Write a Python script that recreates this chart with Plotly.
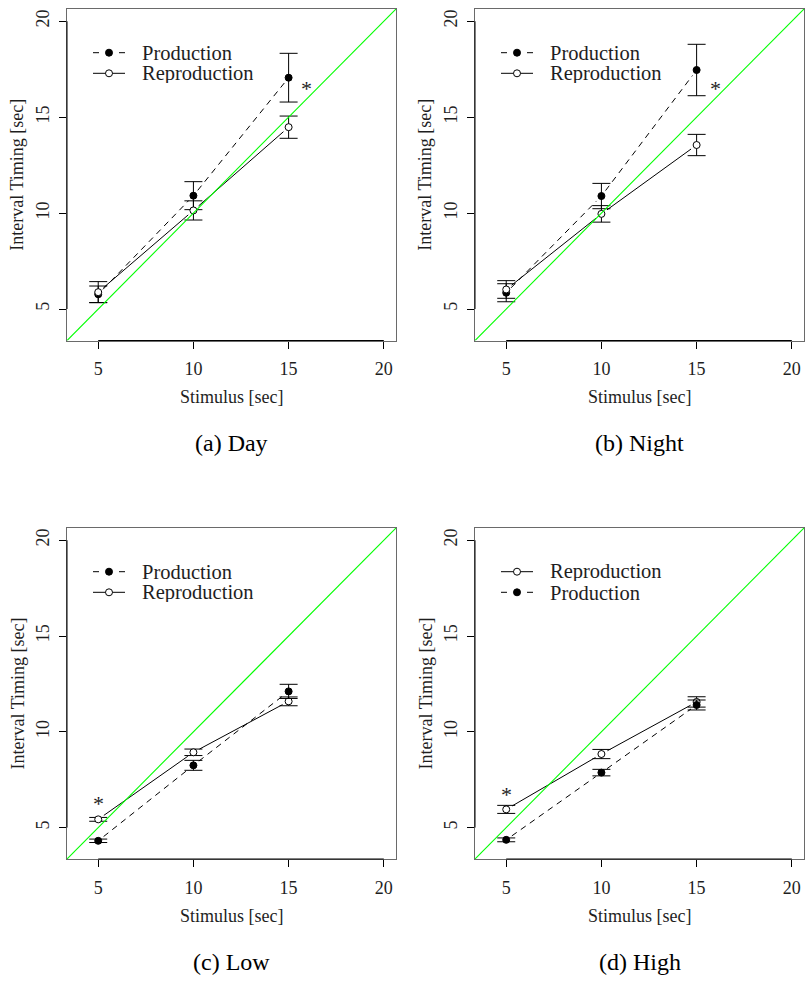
import numpy as np
import plotly.graph_objects as go

# ---- data -------------------------------------------------------------
STIMULUS = [5, 10, 15]
AXIS_RANGE = [3.36, 20.64]
TICKS = [5, 10, 15, 20]

DAY_PROD = [5.77, 10.91, 17.06]
DAY_PROD_SE = [0.43, 0.73, 1.27]
DAY_REP = [5.88, 10.14, 14.48]
DAY_REP_SE = [0.55, 0.50, 0.58]

NIGHT_PROD = [5.85, 10.89, 17.46]
NIGHT_PROD_SE = [0.47, 0.66, 1.34]
NIGHT_REP = [6.02, 9.96, 13.55]
NIGHT_REP_SE = [0.46, 0.43, 0.555]

LOW_PROD = [4.31, 8.25, 12.11]
LOW_PROD_SE = [0.09, 0.26, 0.37]
LOW_REP = [5.43, 8.93, 11.59]
LOW_REP_SE = [0.10, 0.17, 0.23]

HIGH_PROD = [4.36, 7.87, 11.40]
HIGH_PROD_SE = [0.10, 0.17, 0.26]
HIGH_REP = [5.95, 8.84, 11.56]
HIGH_REP_SE = [0.21, 0.24, 0.27]

# significance markers (stimulus, interval)
DAY_STAR = (15.96, 16.63)
NIGHT_STAR = (15.98, 16.63)
LOW_STAR = (5.0, 6.40)
HIGH_STAR = (5.0, 6.87)

CAPTIONS = ["(a) Day", "(b) Night", "(c) Low", "(d) High"]
X_TITLE = "Stimulus [sec]"
Y_TITLE = "Interval Timing [sec]"

# ---- layout geometry (pixels) -----------------------------------------
W, H = 807, 985
FONT = "Liberation Serif"
TEXT = "#1e1e1e"
XPX = {"L": (67, 396), "R": (475, 804)}
YPX = {"T": (9, 340.5), "B": (528, 859)}


def px(x):
    return x / W


def py(y):
    return 1 - y / H


STYLE = {
    "Production": dict(dash="6px,5px", fill="black"),
    "Reproduction": dict(dash="solid", fill="white"),
}

panels = [
    dict(pos=("L", "T"), star=DAY_STAR, cap=CAPTIONS[0],
         series=[("Production", DAY_PROD, DAY_PROD_SE), ("Reproduction", DAY_REP, DAY_REP_SE)],
         draw=["Production", "Reproduction"]),
    dict(pos=("R", "T"), star=NIGHT_STAR, cap=CAPTIONS[1],
         series=[("Production", NIGHT_PROD, NIGHT_PROD_SE), ("Reproduction", NIGHT_REP, NIGHT_REP_SE)],
         draw=["Production", "Reproduction"]),
    dict(pos=("L", "B"), star=LOW_STAR, cap=CAPTIONS[2],
         series=[("Production", LOW_PROD, LOW_PROD_SE), ("Reproduction", LOW_REP, LOW_REP_SE)],
         draw=["Reproduction", "Production"]),
    dict(pos=("R", "B"), star=HIGH_STAR, cap=CAPTIONS[3],
         series=[("Reproduction", HIGH_REP, HIGH_REP_SE), ("Production", HIGH_PROD, HIGH_PROD_SE)],
         draw=["Reproduction", "Production"]),
]


def gapped(xs, ys, gap=0.36):
    """Line segments between points, stopped short of each point (R type='b')."""
    gx, gy = [], []
    for i in range(len(xs) - 1):
        x0, y0, x1, y1 = xs[i], ys[i], xs[i + 1], ys[i + 1]
        d = np.hypot(x1 - x0, y1 - y0)
        ux, uy = (x1 - x0) / d, (y1 - y0) / d
        gx += [x0 + ux * gap, x1 - ux * gap, None]
        gy += [y0 + uy * gap, y1 - uy * gap, None]
    return gx, gy


fig = go.Figure()
shapes, annotations = [], []

for k, p in enumerate(panels):
    n = k + 1
    xa, ya = ("x" if n == 1 else f"x{n}"), ("y" if n == 1 else f"y{n}")
    (xl, xr), (yt, yb) = XPX[p["pos"][0]], YPX[p["pos"][1]]
    xd, yd = [px(xl), px(xr)], [py(yb), py(yt)]

    axis_common = dict(
        range=AXIS_RANGE, tickvals=TICKS, ticktext=[str(t) for t in TICKS],
        ticks="outside", ticklen=7, tickwidth=1, tickcolor="black",
        showline=True, linecolor="#6a6a6a", linewidth=1, mirror=True,
        showgrid=False, zeroline=False,
        tickfont=dict(family=FONT, size=18, color=TEXT),
    )
    fig.update_layout(**{
        ("xaxis" if n == 1 else f"xaxis{n}"): dict(axis_common, domain=xd, anchor=ya,
                                                    ticklabelstandoff=5),
        ("yaxis" if n == 1 else f"yaxis{n}"): dict(axis_common, domain=yd, anchor=xa,
                                                    tickangle=-90, ticklabelstandoff=3),
    })

    data = {name: (vals, se) for name, vals, se in p["series"]}

    # connecting lines
    for name in p["draw"]:
        vals, se = data[name]
        gx, gy = gapped(STIMULUS, vals)
        fig.add_trace(go.Scatter(
            x=gx, y=gy, mode="lines", xaxis=xa, yaxis=ya, showlegend=False,
            line=dict(color="black", width=1, dash=STYLE[name]["dash"]),
            hoverinfo="skip"))

    # points with standard-error bars
    for name in p["draw"]:
        vals, se = data[name]
        fig.add_trace(go.Scatter(
            x=STIMULUS, y=vals, mode="markers", xaxis=xa, yaxis=ya, showlegend=False,
            marker=dict(symbol="circle", size=7, color=STYLE[name]["fill"],
                        line=dict(color="black", width=1)),
            error_y=dict(type="data", array=se, visible=True, color="black",
                         thickness=1, width=9),
            name=name))

    # identity line y = x across the axis range
    fig.add_trace(go.Scatter(
        x=AXIS_RANGE, y=AXIS_RANGE, mode="lines", xaxis=xa, yaxis=ya,
        showlegend=False, line=dict(color="#00ff00", width=1.1), hoverinfo="skip"))

    # black axis segments spanning the tick range
    shapes.append(dict(type="line", xref=xa, yref=f"{ya} domain", x0=TICKS[0], x1=TICKS[-1],
                       y0=0, y1=0, line=dict(color="black", width=1)))
    shapes.append(dict(type="line", xref=f"{xa} domain", yref=ya, x0=0, x1=0,
                       y0=TICKS[0], y1=TICKS[-1], line=dict(color="black", width=1)))

    # legend key: line sample, point symbol, label
    lx = xl + 26
    for i, (name, _, _) in enumerate(p["series"]):
        ry = yt + 43.7 + i * 20.6
        if STYLE[name]["dash"] == "solid":
            shapes.append(dict(type="line", xref="paper", yref="paper",
                               x0=px(lx), x1=px(lx + 32), y0=py(ry), y1=py(ry),
                               line=dict(color="black", width=1)))
        else:
            for a, b in [(lx, lx + 6), (lx + 26, lx + 32)]:
                shapes.append(dict(type="line", xref="paper", yref="paper",
                                   x0=px(a), x1=px(b), y0=py(ry), y1=py(ry),
                                   line=dict(color="black", width=1)))
        r = 3.5
        shapes.append(dict(type="circle", xref="paper", yref="paper",
                           x0=px(lx + 16 - r), x1=px(lx + 16 + r),
                           y0=py(ry + r), y1=py(ry - r),
                           fillcolor=STYLE[name]["fill"], line=dict(color="black", width=1)))
        annotations.append(dict(x=px(lx + 47), y=py(ry), xref="paper", yref="paper",
                                text=name, showarrow=False, xanchor="left", yanchor="middle",
                                height=19, valign="middle",
                                font=dict(family=FONT, size=20.5, color=TEXT)))

    # significance star
    annotations.append(dict(x=p["star"][0], y=p["star"][1], xref=xa, yref=ya, text="*",
                            showarrow=False, font=dict(family=FONT, size=22, color=TEXT),
                            xanchor="center", yanchor="middle", yshift=-3))

    xc = (xl + xr) / 2
    annotations.append(dict(x=px(xc), y=py(yb + 56.5), xref="paper", yref="paper",
                            text=X_TITLE, showarrow=False, xanchor="center", yanchor="middle",
                            font=dict(family=FONT, size=18, color=TEXT)))
    annotations.append(dict(x=px(xl - 50), y=py((yt + yb) / 2), xref="paper", yref="paper",
                            text=Y_TITLE, textangle=-90, showarrow=False,
                            xanchor="center", yanchor="middle",
                            font=dict(family=FONT, size=18, color=TEXT)))
    annotations.append(dict(x=px(xc), y=py(yb + 102.5), xref="paper", yref="paper",
                            text=p["cap"], showarrow=False, xanchor="center", yanchor="middle",
                            font=dict(family=FONT, size=24, color="black")))

fig.update_layout(
    width=W, height=H, margin=dict(l=0, r=0, t=0, b=0),
    paper_bgcolor="white", plot_bgcolor="white",
    shapes=shapes, annotations=annotations, showlegend=False,
    font=dict(family=FONT, color="black"),
)

fig.write_html("out.html")
